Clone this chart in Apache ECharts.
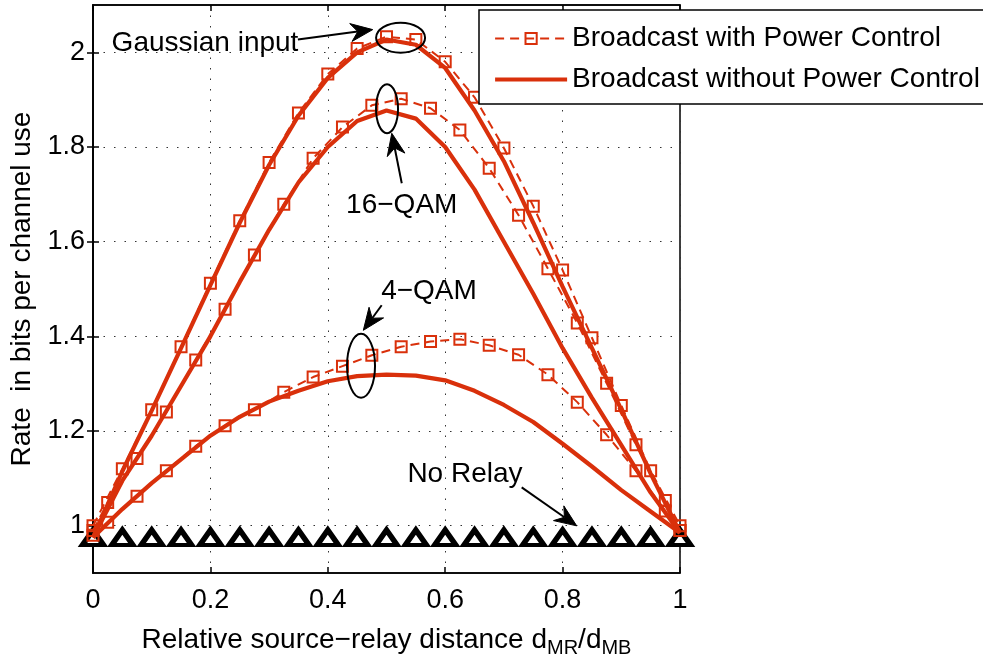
<!DOCTYPE html>
<html>
<head>
<meta charset="utf-8">
<script src="https://cdn.jsdelivr.net/npm/echarts@6/dist/echarts.min.js"></script>
<style>
  html, body { margin: 0; padding: 0; background: #fff; }
  #chart { width: 983px; height: 663px; }
</style>
</head>
<body>
<div id="chart"></div>
<script>
// ---- data ----
const xTicks = [0, 0.2, 0.4, 0.6, 0.8, 1];
const yTicks = [1, 1.2, 1.4, 1.6, 1.8, 2];

// Gaussian input and no-power-control curves are sampled every 0.05
const xCoarse = [0, 0.05, 0.1, 0.15, 0.2, 0.25, 0.3, 0.35, 0.4, 0.45, 0.5,
                 0.55, 0.6, 0.65, 0.7, 0.75, 0.8, 0.85, 0.9, 0.95, 1];
const gaussPC   = [1.0, 1.12, 1.245, 1.378, 1.512, 1.644, 1.767, 1.872, 1.954, 2.008, 2.033,
                   2.027, 1.98, 1.905, 1.798, 1.675, 1.54, 1.397, 1.254, 1.116, 1.0];
const gaussNoPC = [0.975, 1.115, 1.243, 1.375, 1.508, 1.64, 1.762, 1.866, 1.946, 2.0, 2.027,
                   2.016, 1.967, 1.877, 1.77, 1.64, 1.505, 1.375, 1.245, 1.11, 0.985];
const qam16NoPC = [0.975, 1.095, 1.19, 1.295, 1.40, 1.515, 1.625, 1.725, 1.80, 1.855, 1.877,
                   1.86, 1.80, 1.71, 1.60, 1.49, 1.375, 1.27, 1.17, 1.07, 0.985];
const qam4NoPC  = [0.975, 1.035, 1.09, 1.14, 1.19, 1.23, 1.262, 1.285, 1.305, 1.316, 1.319,
                   1.317, 1.307, 1.285, 1.255, 1.219, 1.173, 1.125, 1.075, 1.03, 0.985];

// QAM curves with power control, markers offset by 0.025
const xFine = [0, 0.025, 0.075, 0.125, 0.175, 0.225, 0.275, 0.325, 0.375, 0.425, 0.475,
               0.525, 0.575, 0.625, 0.675, 0.725, 0.775, 0.825, 0.875, 0.925, 0.975, 1];
const qam16PC = [0.99, 1.049, 1.142, 1.24, 1.35, 1.457, 1.572, 1.679, 1.776, 1.842, 1.888,
                 1.902, 1.882, 1.836, 1.755, 1.656, 1.543, 1.428, 1.301, 1.171, 1.053, 0.99];
const qam4PC  = [0.98, 1.007, 1.062, 1.116, 1.168, 1.211, 1.245, 1.282, 1.314, 1.337, 1.36,
                 1.378, 1.389, 1.394, 1.381, 1.361, 1.319, 1.261, 1.192, 1.116, 1.031, 0.99];

// direct transmission, no relay
const noRelay = [0.975, 0.975, 0.975, 0.975, 0.975, 0.975, 0.975, 0.975, 0.975, 0.975, 0.975,
                 0.975, 0.975, 0.975, 0.975, 0.975, 0.975, 0.975, 0.975, 0.975, 0.975];

const NAME_PC = 'Broadcast with Power Control';
const NAME_NOPC = 'Broadcast without Power Control';

// ---- styling ----
const RED = '#d9300b';
const FONT = '"Liberation Sans", Arial, Helvetica, sans-serif';
const FS = 28;      // titles, legend, annotations
const FS_TICK = 27; // tick labels
const SOLID_W = 4.2;
const DASH_W = 2;

const pairs = (xs, ys) => xs.map((x, i) => [x, ys[i]]);

function pcSeries(xs, ys) {
  return {
    name: NAME_PC, type: 'line', data: pairs(xs, ys),
    symbol: 'rect', symbolSize: 11,
    lineStyle: { color: RED, width: DASH_W, type: [9, 6] },
    itemStyle: { color: 'rgba(255,255,255,0)', borderColor: RED, borderWidth: 2 },
    emphasis: { disabled: true }, z: 4
  };
}
function noPcSeries(xs, ys) {
  return {
    name: NAME_NOPC, type: 'line', data: pairs(xs, ys),
    symbol: 'none',
    lineStyle: { color: RED, width: SOLID_W },
    itemStyle: { color: RED },
    emphasis: { disabled: true }, z: 3
  };
}

const gridLine = { show: true, lineStyle: { color: '#333', width: 1, type: [1.5, 9] } };
const tick = { show: true, inside: true, length: 6, lineStyle: { color: '#000', width: 1.5 } };
const axisLine = { show: true, lineStyle: { color: '#000', width: 1.5 } };
const tickLabel = { fontFamily: FONT, fontSize: FS_TICK, color: '#000' };
const nameStyle = { fontFamily: FONT, fontSize: FS, color: '#000' };

const chart = echarts.init(document.getElementById('chart'), null, { renderer: 'canvas' });

chart.setOption({
  animation: false,
  backgroundColor: '#fff',
  grid: { left: 93, right: 303, top: 5, bottom: 90, show: true, borderColor: '#000', borderWidth: 1.5 },
  xAxis: [{
    type: 'value', min: 0, max: 1, interval: 0.2,
    axisLine, axisTick: tick, splitLine: gridLine,
    axisLabel: { ...tickLabel, margin: 14, customValues: xTicks,
      formatter: v => String(+v.toFixed(1)) },
    name: 'Relative source\u2212relay distance d{s|MR}{a|/d}{s|MB}',
    nameLocation: 'middle', nameGap: 49,
    nameTextStyle: {
      ...nameStyle,
      rich: {
        a: { ...nameStyle },
        s: { fontFamily: FONT, fontSize: 20, color: '#000', padding: [16, 0, 0, 0] }
      }
    }
  }, {
    type: 'value', min: 0, max: 1, interval: 0.2, position: 'top',
    axisLine, axisTick: tick, axisLabel: { show: false }, splitLine: { show: false }
  }],
  yAxis: [{
    type: 'value', min: 0.9, max: 2.1,
    axisLine, splitLine: gridLine,
    axisTick: { ...tick, customValues: yTicks },
    axisLabel: { ...tickLabel, margin: 8, customValues: yTicks,
      formatter: v => String(+v.toFixed(1)) },
    name: 'Rate  in bits per channel use',
    nameLocation: 'middle', nameGap: 57,
    nameTextStyle: nameStyle
  }, {
    type: 'value', min: 0.9, max: 2.1, position: 'right',
    axisLine, axisTick: { ...tick, customValues: yTicks },
    axisLabel: { show: false }, splitLine: { show: false }
  }],
  legend: {
    data: [
      { name: NAME_PC },
      { name: NAME_NOPC, itemStyle: { opacity: 0 }, lineStyle: { width: SOLID_W } }
    ],
    orient: 'vertical', left: 479, top: 10,
    itemWidth: 72, itemHeight: 14, itemGap: 10,
    padding: [13, 40, 9, 14],
    borderColor: '#000', borderWidth: 1.5, backgroundColor: '#fff',
    textStyle: { fontFamily: FONT, fontSize: FS, color: '#000', lineHeight: 31 },
    selectedMode: false, z: 20
  },
  series: [
    {
      name: 'No Relay', type: 'line', data: pairs(xCoarse, noRelay),
      symbol: 'triangle', symbolSize: [21, 15],
      lineStyle: { width: 0, opacity: 0 },
      itemStyle: { color: '#fff', borderColor: '#000', borderWidth: 5 },
      emphasis: { disabled: true }, z: 2
    },
    pcSeries(xCoarse, gaussPC),
    noPcSeries(xCoarse, gaussNoPC),
    pcSeries(xFine, qam16PC),
    noPcSeries(xCoarse, qam16NoPC),
    pcSeries(xFine, qam4PC),
    noPcSeries(xCoarse, qam4NoPC)
  ]
});

// ---- annotations placed in data coordinates ----
const px = p => chart.convertToPixel({ gridIndex: 0 }, p);

const ellipses = [
  { c: [0.524, 2.031], rx: 24.5, ry: 15 },
  { c: [0.5009, 1.881], rx: 11, ry: 24.5 },
  { c: [0.4566, 1.338], rx: 14, ry: 32 }
];
const arrows = [
  { from: [0.349, 2.027], to: [0.4765, 2.048] },
  { from: [0.526, 1.7235], to: [0.509, 1.829] },
  { from: [0.4918, 1.4657], to: [0.4605, 1.4127] },
  { from: [0.7303, 1.081], to: [0.824, 0.9996] }
];
const notes = [
  { text: 'Gaussian input', at: [0.1908, 2.02] },
  { text: '16\u2212QAM', at: [0.526, 1.677] },
  { text: '4\u2212QAM', at: [0.5724, 1.496] },
  { text: 'No Relay', at: [0.6337, 1.108] }
];

function arrowShapes(a) {
  const p0 = px(a.from), p1 = px(a.to);
  const dx = p1[0] - p0[0], dy = p1[1] - p0[1];
  const len = Math.hypot(dx, dy), ux = dx / len, uy = dy / len;
  const nx = -uy, ny = ux;
  const hl = 22, hw = 9, notch = 7;
  const bx = p1[0] - ux * hl, by = p1[1] - uy * hl;
  const mx = p1[0] - ux * (hl - notch), my = p1[1] - uy * (hl - notch);
  return [
    { type: 'line', shape: { x1: p0[0], y1: p0[1], x2: mx, y2: my },
      style: { stroke: '#000', lineWidth: 2 }, z: 30 },
    { type: 'polygon', shape: { points: [p1, [bx + nx * hw, by + ny * hw], [mx, my], [bx - nx * hw, by - ny * hw]] },
      style: { fill: '#000', stroke: '#000', lineWidth: 1 }, z: 30 }
  ];
}

const graphics = [];
ellipses.forEach(e => {
  const c = px(e.c);
  graphics.push({ type: 'ellipse', shape: { cx: c[0], cy: c[1], rx: e.rx, ry: e.ry },
    style: { fill: 'none', stroke: '#000', lineWidth: 2 }, z: 30 });
});
arrows.forEach(a => graphics.push(...arrowShapes(a)));
notes.forEach(n => {
  const p = px(n.at);
  graphics.push({ type: 'text', x: p[0], y: p[1], z: 30,
    style: { text: n.text, font: FS + 'px ' + FONT, fill: '#000',
      textAlign: 'center', textVerticalAlign: 'middle' } });
});
chart.setOption({ graphic: graphics });
</script>
</body>
</html>
